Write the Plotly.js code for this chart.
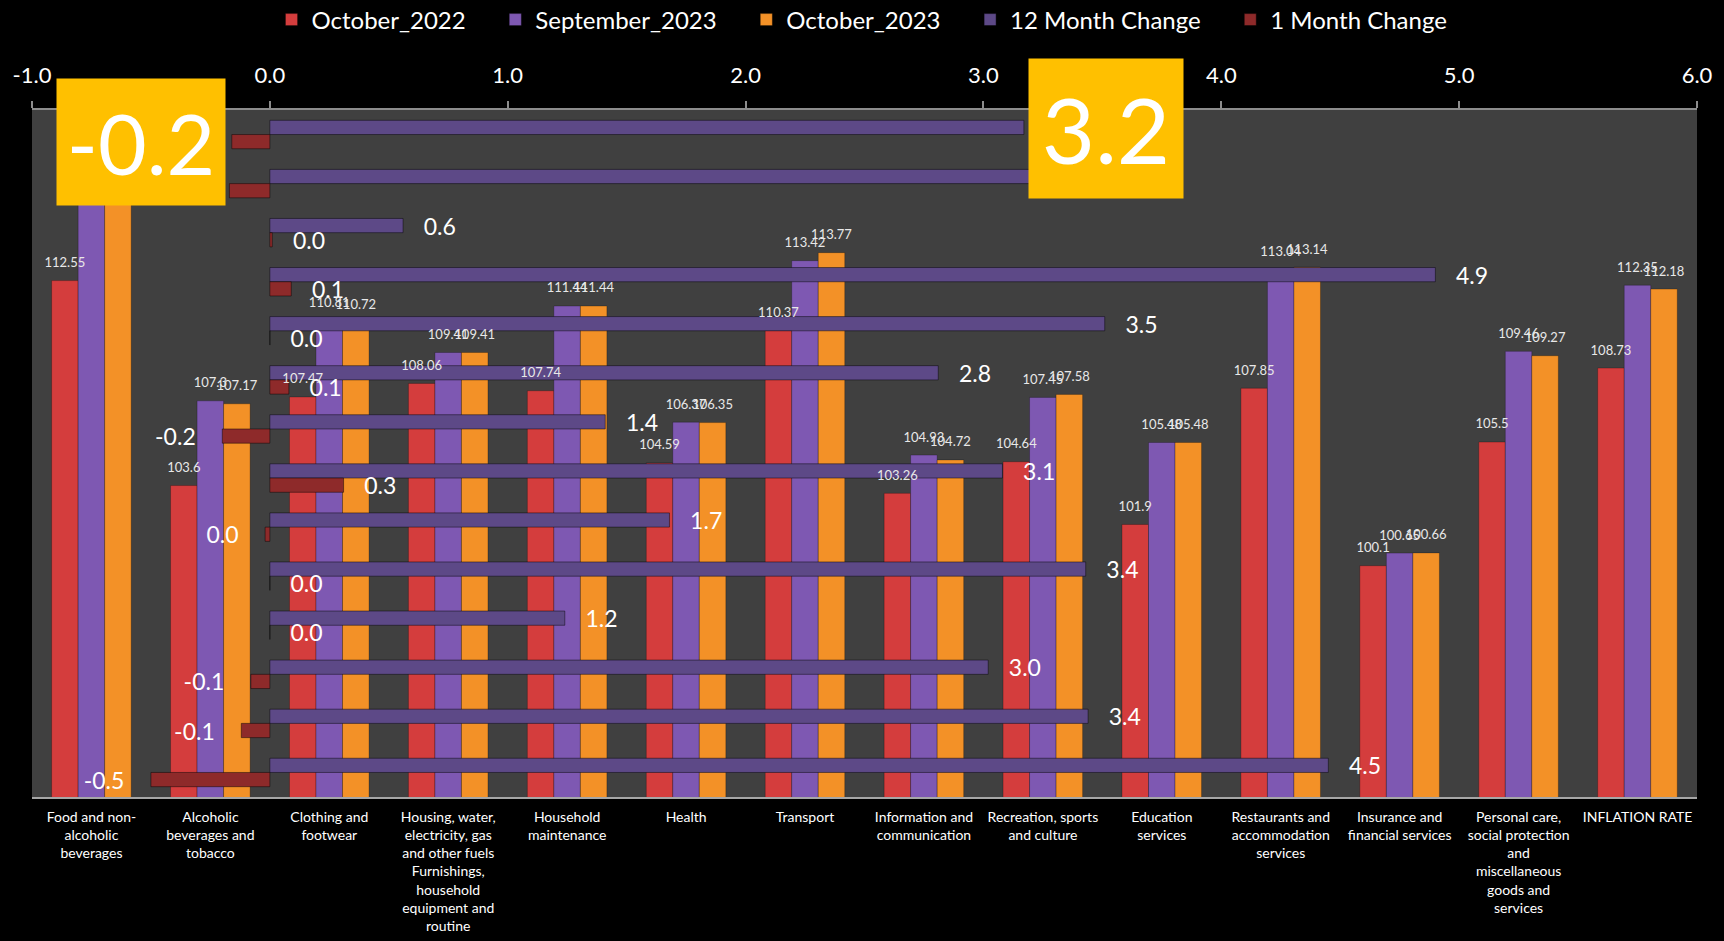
<!DOCTYPE html>
<html>
<head>
<meta charset="utf-8">
<script src="https://cdn.plot.ly/plotly-3.0.1.min.js"></script>
<style>
html,body{margin:0;padding:0;background:#000;}
#chart{width:1724px;height:941px;}
</style>
</head>
<body>
<div id="chart"></div>
<script>
const categories = [
  "Food and non-alcoholic beverages",
  "Alcoholic beverages and tobacco",
  "Clothing and footwear",
  "Housing, water, electricity, gas and other fuels Furnishings, household equipment and routine",
  "Household maintenance",
  "Health",
  "Transport",
  "Information and communication",
  "Recreation, sports and culture",
  "Education services",
  "Restaurants and accommodation services",
  "Insurance and financial services",
  "Personal care, social protection and miscellaneous goods and services",
  "INFLATION RATE"
];
const tickLabels = [
  "Food and non-<br>alcoholic<br>beverages",
  "Alcoholic<br>beverages and<br>tobacco",
  "Clothing and<br>footwear",
  "Housing, water,<br>electricity, gas<br>and other fuels<br>Furnishings,<br>household<br>equipment and<br>routine",
  "Household<br>maintenance",
  "Health",
  "Transport",
  "Information and<br>communication",
  "Recreation, sports<br>and culture",
  "Education<br>services",
  "Restaurants and<br>accommodation<br>services",
  "Insurance and<br>financial services",
  "Personal care,<br>social protection<br>and<br>miscellaneous<br>goods and<br>services",
  "INFLATION RATE"
];
const oct2022 = [112.55,103.6,107.47,108.06,107.74,104.59,110.37,103.26,104.64,101.9,107.85,100.1,105.5,108.73];
const sep2023 = [118.15,107.3,110.81,109.41,111.44,106.37,113.42,104.93,107.45,105.48,113.04,100.65,109.46,112.35];
const oct2023 = [117.56,107.17,110.72,109.41,111.44,106.35,113.77,104.72,107.58,105.48,113.14,100.66,109.27,112.18];
const change12 = [4.45,3.44,3.02,1.24,3.43,1.68,3.08,1.41,2.81,3.51,4.90,0.56,3.57,3.17];
const change1 = [-0.50,-0.12,-0.08,0,0,-0.02,0.31,-0.20,0.08,0,0.09,0.01,-0.17,-0.16];
const topTicks = [-1,0,1,2,3,4,5,6];

const FONT = "Lato, 'Open Sans', sans-serif";
const NB = "\u00a0";
function fmt(v){ let s = v.toFixed(1); if (s === "-0.0") s = "0.0"; return s; }
function hLabel(v){ return v < 0 ? fmt(v) + NB+NB+NB+NB : NB+NB+NB + fmt(v); }

const idx = categories.map((c, i) => i);
const vWidth = 0.223;
const LABEL_LIFT = 0.45;   // label gap above a column, in axis units

function vTrace(name, vals, color, offset){
  return {
    type:'bar', name:name + NB.repeat(4), x:idx, y:vals, xaxis:'x', yaxis:'y',
    width:vWidth, offset:offset,
    marker:{color:color, line:{color:'rgba(0,0,0,0.25)', width:1}},
    hovertext: categories, hoverinfo:'text+y'
  };
}
function vLabels(vals, offset){
  return {
    type:'scatter', mode:'text', x: idx.map(i => i + offset + vWidth/2), y: vals.map(v => v + LABEL_LIFT),
    xaxis:'x3', yaxis:'y3', text: vals.map(v => String(v)), textposition:'top center',
    textfont:{family:FONT, size:13, color:'#e8e8e8'}, showlegend:false, hoverinfo:'skip',
    cliponaxis:false
  };
}
function hTrace(name, vals, color, offset, pad){
  return {
    type:'bar', orientation:'h', name:name + NB.repeat(pad), x:vals, y:categories, xaxis:'x2', yaxis:'y2',
    width:0.29, offset:offset,
    marker:{color:color, line:{color:'rgba(0,0,0,0.45)', width:1}},
    text: vals.map(hLabel), textposition:'outside', constraintext:'none',
    cliponaxis:false,
    textfont:{family:FONT, size:23, color:'#ffffff'},
    hoverinfo:'y+x'
  };
}

const offs = [-0.335, -0.112, 0.111];
const traces = [
  vTrace('October_2022', oct2022, '#D43D3D', offs[0]),
  vTrace('September_2023', sep2023, '#7E58B2', offs[1]),
  vTrace('October_2023', oct2023, '#F39127', offs[2]),
  hTrace('12 Month Change', change12, '#5D4987', 0, 4),
  hTrace('1 Month Change', change1, '#8E2A2A', -0.29, 0),
  vLabels(oct2022, offs[0]),
  vLabels(sep2023, offs[1]),
  vLabels(oct2023, offs[2])
];

const layout = {
  width:1724, height:941,
  paper_bgcolor:'#000000', plot_bgcolor:'#404040',
  margin:{l:32, r:27, t:110, b:144},
  font:{family:FONT, color:'#ffffff'},
  showlegend:true,
  legend:{orientation:'h', x:0.5, xanchor:'center', xref:'container',
          y:1-20/941, yanchor:'middle', yref:'container',
          font:{family:FONT, size:24, color:'#ffffff'}, bgcolor:'rgba(0,0,0,0)',
          traceorder:'normal'},
  xaxis:{type:'linear', tickvals:idx, ticktext:tickLabels, range:[-0.5,13.5],
         tickfont:{family:FONT, size:14, color:'#ffffff'},
         showgrid:false, zeroline:false, showline:true, linecolor:'#A6A6A6', linewidth:2,
         ticks:'', ticklabelstandoff:6},
  yaxis:{range:[90,120], visible:false, showgrid:false, zeroline:false},
  xaxis2:{overlaying:'x', side:'top', range:[-1,6], tickvals:topTicks, ticktext:topTicks.map(v => v.toFixed(1)),
          tickfont:{family:FONT, size:22, color:'#ffffff'},
          showgrid:false, zeroline:false, showline:true, linecolor:'#8C8C8C', linewidth:2,
          ticks:'outside', ticklen:7, tickcolor:'#8C8C8C', tickwidth:2, ticklabelstandoff:9},
  yaxis2:{overlaying:'y', type:'category', categoryorder:'array', categoryarray:categories,
          range:[-0.5,13.5], visible:false, showgrid:false, zeroline:false},
  xaxis3:{overlaying:'x', range:[-0.5,13.5], visible:false, showgrid:false, zeroline:false},
  yaxis3:{overlaying:'y', range:[90,120], visible:false, showgrid:false, zeroline:false},
  annotations:[
    {xref:'paper', yref:'paper', x:(141-32)/1665, y:(797-142)/687, xanchor:'center', yanchor:'middle',
     text: fmt(change1[13]), showarrow:false, bgcolor:'#FFC000', width:168, height:126, borderpad:0,
     align:'center', valign:'middle', font:{family:FONT, size:84, color:'#ffffff'}},
    {xref:'paper', yref:'paper', x:(1105.5-32)/1665, y:(797-128.5)/687, xanchor:'center', yanchor:'middle',
     text: fmt(change12[13]), showarrow:false, bgcolor:'#FFC000', width:154, height:139, borderpad:0,
     align:'center', valign:'middle', font:{family:FONT, size:92, color:'#ffffff'}}
  ]
};

Plotly.newPlot('chart', traces, layout, {displayModeBar:false, responsive:false});
</script>
</body>
</html>
